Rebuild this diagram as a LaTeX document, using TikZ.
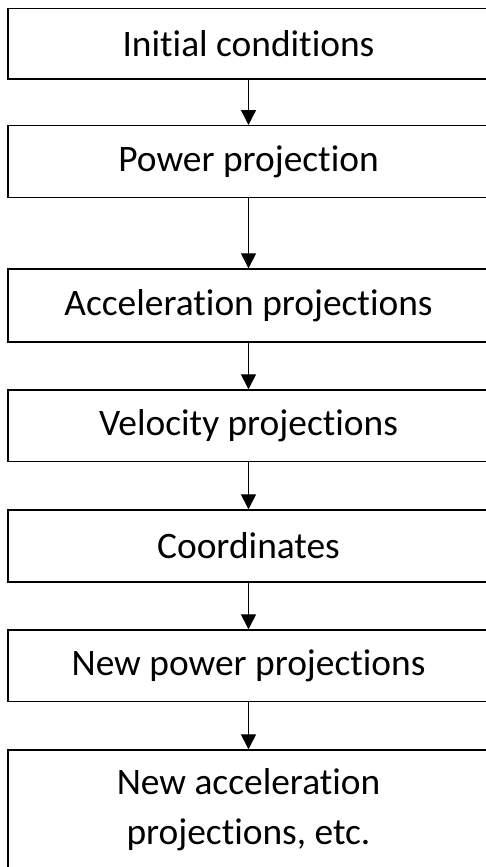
\documentclass[tikz,border=0pt]{standalone}
\usepackage{fontspec}
\setmainfont{Carlito}[Ligatures={NoCommon,NoRare,NoContextual}]
\usetikzlibrary{arrows.meta}
\begin{document}
\begin{tikzpicture}[x=1pt,y=-1pt,
  stepbox/.style={draw=black,line width=1.4pt,minimum width=481pt,inner sep=0pt,
    font=\fontsize{37.4}{50}\selectfont,align=center},
  flow/.style={draw=black,line width=1.3pt,-{Triangle[length=15pt,width=15pt]}}]
\useasboundingbox (0,0) rectangle (486,867);
\clip (0,0) rectangle (486,867);
\node[stepbox,line width=1.9pt,minimum height=70.5pt] (b1) at (248.5,43.75) {Initial conditions};
\node[stepbox,minimum height=72pt] (b2) at (248.5,161.7) {Power projection};
\node[stepbox,minimum height=73pt] (b3) at (248.5,305.5) {Acceleration projections};
\node[stepbox,minimum height=71.7pt] (b4) at (248.5,425.85) {Velocity projections};
\node[stepbox,minimum height=72pt] (b5) at (248.5,546) {Coordinates};
\node[stepbox,minimum height=71.7pt] (b6) at (248.5,665.85) {New power projections};
\node[stepbox,minimum height=120pt] (b7) at (248.5,810) {New acceleration\\projections, etc.};
\draw[flow] (b1) -- (b2);
\draw[flow] (b2) -- (b3);
\draw[flow] (b3) -- (b4);
\draw[flow] (b4) -- (b5);
\draw[flow] (b5) -- (b6);
\draw[flow] (b6) -- (b7);
\end{tikzpicture}
\end{document}
